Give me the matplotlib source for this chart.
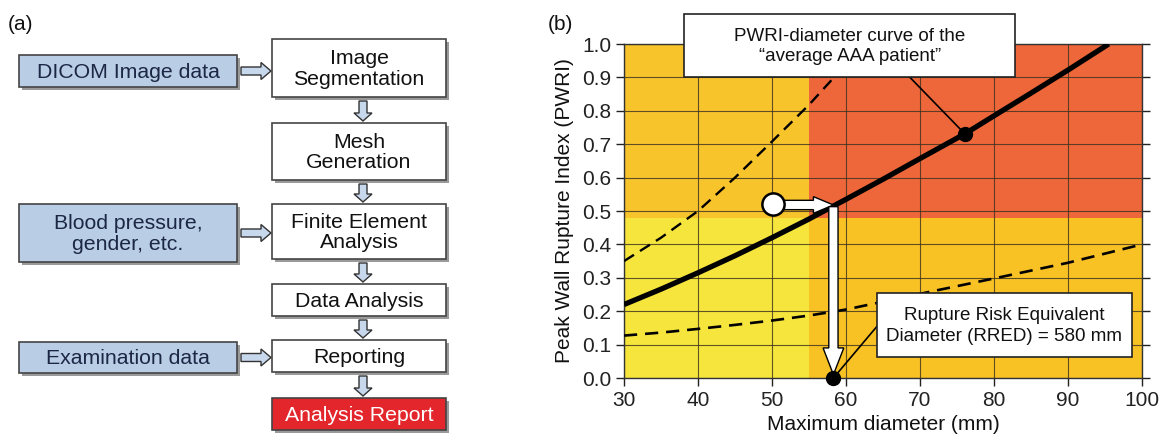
import matplotlib
matplotlib.use("Agg")
import matplotlib.pyplot as plt
from matplotlib.patches import Rectangle, FancyArrow

plt.rcParams['font.family'] = ['Liberation Sans', 'DejaVu Sans']

# ---------------- data: panel (b) ----------------
avg_x = [30, 35, 40, 45, 50, 55, 58.3, 60, 65, 70, 76.06, 80, 85, 90, 95.5]
avg_y = [0.22, 0.266, 0.315, 0.366, 0.42, 0.476, 0.515, 0.535, 0.595, 0.657,
         0.731, 0.785, 0.853, 0.922, 1.0]
upper_x = [30, 35, 40, 45, 50, 55, 58.5, 61, 62.3]
upper_y = [0.35, 0.42, 0.50, 0.60, 0.708, 0.818, 0.903, 0.965, 1.0]
lower_x = [30, 35, 40, 45, 50, 55, 60, 70, 80, 90, 100]
lower_y = [0.127, 0.136, 0.147, 0.159, 0.172, 0.187, 0.205, 0.252, 0.298, 0.345, 0.40]
patient_x, patient_y = 50.1, 0.52
rred_x = 58.3
curve_point = (76.06, 0.731)
diam_split = 55
pwri_split = 0.48
x_ticks = [30, 40, 50, 60, 70, 80, 90, 100]
y_ticks = [0.0, 0.1, 0.2, 0.3, 0.4, 0.5, 0.6, 0.7, 0.8, 0.9, 1.0]

# ---------------- data: panel (a) ----------------
steps = ["Image\nSegmentation", "Mesh\nGeneration", "Finite Element\nAnalysis",
         "Data Analysis", "Reporting", "Analysis Report"]
inputs = ["DICOM Image data", "Blood pressure,\ngender, etc.", "Examination data"]

W, H = 1163, 436
fig = plt.figure(figsize=(W / 100, H / 100), dpi=100)

# ---------------- panel (a) ----------------
axa = fig.add_axes([0, 0, 500 / W, 1])
axa.set_xlim(0, 500)
axa.set_ylim(H, 0)
axa.axis('off')

step_x = (272, 446)
step_y = [(39, 97), (123, 180), (204, 259), (284, 316), (340, 372), (398, 430)]
inp_x = (19, 237)
inp_y = [(55, 87), (204, 262), (342, 373)]
fs_a = 15.3


def box(ax, x0, x1, y0, y1, fc, text, tc):
    ax.add_patch(Rectangle((x0 + 3, y0 + 3), x1 - x0, y1 - y0, fc='#9a9a9a',
                           ec='none', zorder=1))
    ax.add_patch(Rectangle((x0, y0), x1 - x0, y1 - y0, fc=fc, ec='#444444',
                           lw=1.2, zorder=2))
    ax.text((x0 + x1) / 2, (y0 + y1) / 2 + 1, text, ha='center', va='center',
            fontsize=fs_a, color=tc, linespacing=1.12, zorder=3)


for i, (t, (y0, y1)) in enumerate(zip(steps, step_y)):
    last = i == len(steps) - 1
    box(axa, step_x[0], step_x[1], y0, y1, '#e3262b' if last else 'white', t,
        'white' if last else '#111111')
    if i > 0:
        prev_bottom = step_y[i - 1][1]
        axa.add_patch(FancyArrow(363, prev_bottom + 4, 0, y0 - prev_bottom - 6,
                                 width=8, head_width=18, head_length=8,
                                 length_includes_head=True, fc='#c7d7ec',
                                 ec='#333333', lw=1.0, zorder=3))

for t, (y0, y1) in zip(inputs, inp_y):
    box(axa, inp_x[0], inp_x[1], y0, y1, '#b9cde5', t, '#1c2745')
    yc = (y0 + y1) / 2
    axa.add_patch(FancyArrow(241, yc, 30, 0, width=8, head_width=17,
                             head_length=10, length_includes_head=True,
                             fc='#c7d7ec', ec='#333333', lw=1.0, zorder=3))

axa.text(8, 25, "(a)", fontsize=15, ha='left', va='center', color='#111111')

# ---------------- panel (b) ----------------
ax = fig.add_axes([624 / W, 1 - 378 / H, (1142 - 624) / W, (378 - 44) / H])
ax.set_xlim(30, 100)
ax.set_ylim(0, 1.0)

c_ul, c_ll, c_lr, c_ur = '#f8c42c', '#f6e53c', '#f8c124', '#ee673a'
ax.add_patch(Rectangle((30, pwri_split), diam_split - 30, 1 - pwri_split, fc=c_ul, ec='none', zorder=0.1))
ax.add_patch(Rectangle((30, 0), diam_split - 30, pwri_split, fc=c_ll, ec='none', zorder=0.1))
ax.add_patch(Rectangle((diam_split, 0), 100 - diam_split, pwri_split, fc=c_lr, ec='none', zorder=0.1))
ax.add_patch(Rectangle((diam_split, pwri_split), 100 - diam_split, 1 - pwri_split, fc=c_ur, ec='none', zorder=0.1))

ax.set_axisbelow(True)
ax.grid(True, color='#3a3020', lw=0.8, alpha=0.8)
ax.set_xticks(x_ticks)
ax.set_yticks(y_ticks)
ax.set_yticklabels([f"{v:.1f}" for v in y_ticks])
ax.tick_params(axis='both', direction='out', length=6, width=1.0,
               labelsize=15, colors='#222222', pad=3)
ax.tick_params(axis='y', right=True)
for s in ax.spines.values():
    s.set_color('#333333')
    s.set_linewidth(1.0)
ax.set_xlabel("Maximum diameter (mm)", fontsize=15, labelpad=4, color='#111111')
ax.set_ylabel("Peak Wall Rupture Index (PWRI)", fontsize=15, labelpad=6, color='#111111')

ax.plot(upper_x, upper_y, color='black', lw=1.7, dashes=(5, 3), zorder=3)
ax.plot(lower_x, lower_y, color='black', lw=1.9, dashes=(5, 3), zorder=3)
ax.plot(avg_x, avg_y, color='black', lw=3.8, zorder=4, solid_capstyle='butt',
        solid_joinstyle='round')

# arrows
tip_y = 0.518
ax.add_patch(FancyArrow(patient_x + 1.3, tip_y, rred_x - patient_x - 1.3, 0,
                        width=0.028, head_width=0.05, head_length=2.7,
                        length_includes_head=True, fc='white', ec='black',
                        lw=1.0, zorder=5))
ax.add_patch(FancyArrow(rred_x, tip_y - 0.005, 0, -(tip_y - 0.005) + 0.01,
                        width=1.25, head_width=2.8, head_length=0.08,
                        length_includes_head=True, fc='white', ec='black',
                        lw=1.0, zorder=5))
ax.plot(patient_x, patient_y, 'o', ms=16, mfc='white', mec='black', mew=1.8, zorder=6)
ax.plot(*curve_point, 'o', ms=10, color='black', zorder=6)
ax.plot(rred_x, 0.0, 'o', ms=10, color='black', zorder=7, clip_on=False)

# annotation boxes
ax.plot([68.6, curve_point[0]], [0.901, curve_point[1]], color='black', lw=1.2, zorder=6)
ax.plot([rred_x, 64.2], [0.0, 0.155], color='black', lw=1.2, zorder=6)
ax.add_patch(Rectangle((38.15, 0.901), 44.75, 0.19, fc='white', ec='#222222',
                       lw=1.2, zorder=10, clip_on=False))
ax.text(60.5, 0.992, "PWRI-diameter curve of the\n\u201caverage AAA patient\u201d",
        ha='center', va='center', fontsize=13.5, linespacing=1.25, zorder=11,
        color='#111111')
ax.add_patch(Rectangle((64.2, 0.062), 34.4, 0.193, fc='white', ec='#222222',
                       lw=1.2, zorder=10, clip_on=False))
ax.text(81.4, 0.156, "Rupture Risk Equivalent\nDiameter (RRED) = 580 mm",
        ha='center', va='center', fontsize=13.5, linespacing=1.25, zorder=11,
        color='#111111')

fig.text(548 / W, 1 - 25 / H, "(b)", fontsize=15, ha='left', va='center', color='#111111')

fig.savefig("out.png", dpi=100)
